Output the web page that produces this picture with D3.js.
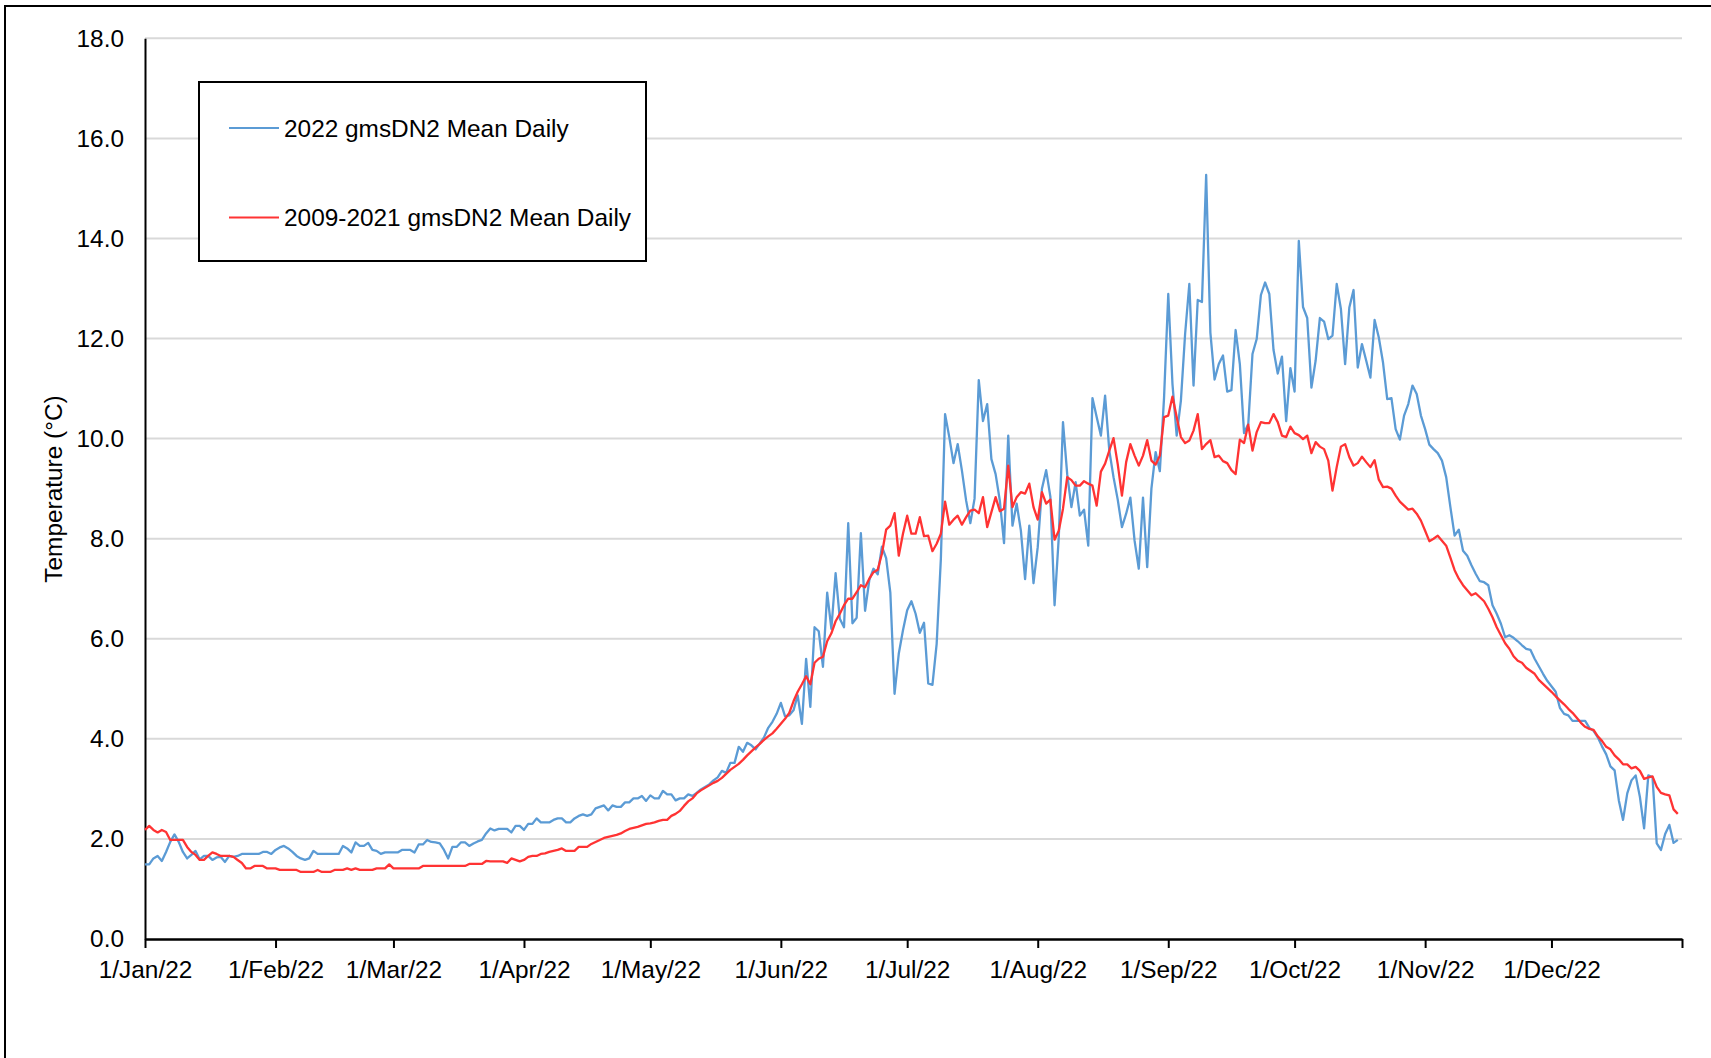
<!DOCTYPE html>
<head>
  <meta charset="utf-8">
  <script src="https://d3js.org/d3.v7.min.js"></script>
  <style type="text/css">
    body { margin: 0; background: #fff; }
    text { font-family: "Liberation Sans", Arial, sans-serif; font-size: 24.4px; fill: #000; }
    .line { fill: none; stroke-width: 2.3; stroke-linejoin: round; }
  </style>
</head>

<body>
  <script type="text/javascript">
    // daily means, 1 Jan 2022 .. 31 Dec 2022 (one row per month)
    var mean2022 = [
      1.49,1.49,1.61,1.66,1.56,1.74,1.94,2.09,1.94,1.74,1.61,1.68,1.76,1.59,1.66,1.66,1.58,1.63,1.64,1.54,1.66,1.64,1.66,1.70,1.70,1.70,1.70,1.70,1.74,1.74,1.70,
      1.78,1.83,1.86,1.81,1.74,1.66,1.61,1.58,1.61,1.76,1.70,1.70,1.70,1.70,1.70,1.70,1.86,1.81,1.73,1.93,1.86,1.86,1.92,1.78,1.76,1.70,1.73,1.73,
      1.73,1.73,1.78,1.78,1.78,1.73,1.89,1.89,1.98,1.94,1.93,1.91,1.78,1.61,1.84,1.84,1.93,1.93,1.86,1.91,1.95,1.98,2.11,2.21,2.17,2.20,2.20,2.20,2.13,2.26,2.26,
      2.18,2.30,2.30,2.41,2.33,2.33,2.33,2.38,2.41,2.41,2.33,2.33,2.41,2.46,2.49,2.46,2.49,2.61,2.64,2.67,2.57,2.67,2.64,2.64,2.73,2.73,2.81,2.81,2.86,2.76,
      2.87,2.81,2.81,2.96,2.89,2.89,2.77,2.81,2.81,2.89,2.86,2.92,2.99,3.04,3.09,3.17,3.23,3.36,3.32,3.52,3.52,3.84,3.74,3.92,3.87,3.79,3.91,4.03,4.22,4.34,4.50,
      4.72,4.45,4.47,4.57,4.87,4.30,5.60,4.64,6.23,6.15,5.44,6.92,6.20,7.31,6.40,6.23,8.31,6.31,6.42,8.11,6.56,7.17,7.40,7.29,7.84,7.61,6.92,4.90,5.70,6.17,
      6.57,6.75,6.50,6.12,6.32,5.11,5.08,5.90,7.60,10.49,10.03,9.51,9.89,9.36,8.76,8.31,8.80,11.17,10.35,10.69,9.59,9.29,8.76,7.91,10.06,8.26,8.70,8.16,7.19,8.26,7.11,
      7.83,9.00,9.37,8.84,6.67,8.03,10.33,9.29,8.63,9.13,8.46,8.58,7.86,10.81,10.43,10.06,10.86,9.76,9.23,8.78,8.23,8.50,8.82,7.96,7.40,8.82,7.43,9.00,9.73,9.35,10.82,
      12.89,11.09,10.06,10.76,12.09,13.09,11.06,12.77,12.73,15.27,12.12,11.18,11.49,11.66,10.94,10.97,12.17,11.49,10.11,10.29,11.69,11.99,12.87,13.12,12.89,11.77,11.30,11.64,10.35,11.41,
      10.94,13.95,12.63,12.41,11.02,11.56,12.41,12.34,11.99,12.06,13.09,12.59,11.49,12.62,12.97,11.42,11.89,11.56,11.22,12.37,12.02,11.52,10.79,10.81,10.19,9.98,10.46,10.69,11.06,10.89,10.46,
      10.19,9.88,9.79,9.71,9.56,9.23,8.63,8.06,8.18,7.76,7.66,7.47,7.30,7.15,7.13,7.07,6.67,6.50,6.30,6.03,6.07,6.02,5.95,5.87,5.80,5.78,5.60,5.45,5.30,5.16,
      5.05,4.94,4.62,4.50,4.47,4.36,4.36,4.36,4.36,4.22,4.16,4.03,3.85,3.69,3.45,3.37,2.77,2.38,2.91,3.17,3.27,2.84,2.21,3.27,3.23,1.91,1.78,2.10,2.28,1.92,1.98
    ];

    var mean2009_2021 = [
      2.18,2.26,2.18,2.13,2.18,2.14,1.98,1.98,1.98,1.98,1.84,1.74,1.68,1.58,1.58,1.66,1.73,1.70,1.66,1.66,1.66,1.64,1.58,1.52,1.41,1.41,1.46,1.46,1.46,1.41,1.41,
      1.41,1.38,1.38,1.38,1.38,1.38,1.34,1.34,1.34,1.34,1.38,1.34,1.34,1.34,1.38,1.38,1.38,1.41,1.38,1.41,1.38,1.38,1.38,1.38,1.41,1.41,1.41,1.49,
      1.41,1.41,1.41,1.41,1.41,1.41,1.41,1.46,1.46,1.46,1.46,1.46,1.46,1.46,1.46,1.46,1.46,1.46,1.50,1.50,1.50,1.50,1.56,1.55,1.55,1.55,1.55,1.52,1.61,1.58,1.55,
      1.58,1.64,1.66,1.66,1.70,1.71,1.74,1.76,1.78,1.81,1.76,1.76,1.76,1.84,1.84,1.84,1.90,1.94,1.98,2.02,2.04,2.06,2.08,2.11,2.16,2.20,2.22,2.24,2.27,2.30,
      2.31,2.33,2.36,2.38,2.38,2.46,2.50,2.56,2.66,2.75,2.81,2.91,2.97,3.02,3.07,3.12,3.16,3.22,3.30,3.38,3.44,3.50,3.58,3.67,3.75,3.83,3.90,3.98,4.05,4.11,4.20,
      4.30,4.40,4.52,4.75,4.94,5.09,5.25,5.09,5.52,5.60,5.64,5.95,6.11,6.35,6.50,6.67,6.80,6.80,6.93,7.07,7.03,7.20,7.33,7.38,7.70,8.18,8.26,8.51,7.66,8.10,
      8.46,8.10,8.10,8.43,8.05,8.06,7.75,7.90,8.10,8.74,8.28,8.38,8.46,8.28,8.43,8.56,8.58,8.51,8.83,8.23,8.53,8.83,8.55,8.60,9.46,8.63,8.83,8.93,8.90,9.10,8.63,
      8.38,8.93,8.70,8.78,7.98,8.16,8.60,9.23,9.17,9.06,9.06,9.15,9.10,9.06,8.66,9.34,9.50,9.76,10.01,9.49,8.86,9.53,9.89,9.66,9.46,9.66,9.97,9.56,9.48,9.66,10.43,
      10.46,10.84,10.43,10.03,9.91,9.96,10.16,10.49,9.79,9.89,9.97,9.63,9.66,9.55,9.51,9.37,9.29,9.98,9.91,10.28,9.76,10.13,10.33,10.31,10.31,10.49,10.33,10.06,10.03,10.24,
      10.11,10.07,9.99,10.06,9.71,9.93,9.84,9.79,9.56,8.96,9.43,9.84,9.89,9.63,9.46,9.51,9.64,9.53,9.43,9.57,9.18,9.03,9.04,9.00,8.86,8.74,8.66,8.58,8.60,8.50,8.36,
      8.16,7.95,8.00,8.06,7.96,7.86,7.62,7.37,7.20,7.07,6.97,6.87,6.91,6.83,6.75,6.60,6.43,6.23,6.07,5.91,5.80,5.65,5.56,5.52,5.42,5.36,5.30,5.18,5.10,5.02,
      4.94,4.85,4.77,4.69,4.60,4.52,4.42,4.32,4.24,4.20,4.18,4.05,3.96,3.84,3.79,3.67,3.59,3.49,3.49,3.41,3.44,3.36,3.20,3.23,3.25,3.04,2.92,2.89,2.87,2.59,2.50
    ];

    var seriesNames = ["2022 gmsDN2 Mean Daily", "2009-2021 gmsDN2 Mean Daily"];
    var seriesColors = ["#5b9bd5", "#ff3333"];
    var monthLabels = ["1/Jan/22", "1/Feb/22", "1/Mar/22", "1/Apr/22", "1/May/22", "1/Jun/22",
                       "1/Jul/22", "1/Aug/22", "1/Sep/22", "1/Oct/22", "1/Nov/22", "1/Dec/22"];
    var yTicks = [0, 2, 4, 6, 8, 10, 12, 14, 16, 18];

    var W = 1711, H = 1058;
    // plot box (note: "top" is taken by window.top, so use an object)
    var plot = { x0: 145, x1: 1682, y0: 939, y1: 38.3 };

    var start = new Date(Date.UTC(2022, 0, 1)),
        end = new Date(Date.UTC(2023, 0, 1));

    var xScale = d3.scaleUtc().domain([start, end]).range([plot.x0, plot.x1]);
    var yScale = d3.scaleLinear().domain([0, 18]).range([plot.y0, plot.y1]);

    function dayDate(i) { return new Date(Date.UTC(2022, 0, 1 + i)); }

    var svg = d3.select("body").append("svg")
      .attr("width", W)
      .attr("height", H);

    svg.append("rect").attr("width", W).attr("height", H).attr("fill", "#fff");

    // outer chart border (runs off right/bottom of the picture)
    svg.append("rect")
      .attr("x", 5).attr("y", 6)
      .attr("width", W + 20).attr("height", H + 20)
      .attr("fill", "none").attr("stroke", "#000").attr("stroke-width", 2);

    // gridlines
    svg.append("g").selectAll("line")
      .data(yTicks.filter(function(d) { return d > 0; }))
      .enter().append("line")
      .attr("x1", plot.x0).attr("x2", plot.x1)
      .attr("y1", function(d) { return yScale(d); })
      .attr("y2", function(d) { return yScale(d); })
      .attr("stroke", "#d9d9d9").attr("stroke-width", 2);

    // y axis: line + labels, no ticks
    var yAxis = d3.axisLeft(yScale)
      .tickValues(yTicks)
      .tickSize(0)
      .tickPadding(21)
      .tickFormat(d3.format(".1f"));

    var gy = svg.append("g")
      .attr("transform", "translate(" + plot.x0 + ",0)")
      .call(yAxis);
    gy.select(".domain").attr("stroke", "#000").attr("stroke-width", 2);
    gy.selectAll("text").attr("font-size", null).attr("font-family", null);

    // x axis: monthly ticks pointing down
    var monthTicks = d3.utcMonth.range(start, d3.utcDay.offset(end, 1));
    var xAxis = d3.axisBottom(xScale)
      .tickValues(monthTicks)
      .tickSizeInner(9)
      .tickSizeOuter(0)
      .tickPadding(13)
      .tickFormat(function(d, i) { return monthLabels[i] || ""; });

    var gx = svg.append("g")
      .attr("transform", "translate(0," + plot.y0 + ")")
      .call(xAxis);
    gx.select(".domain").attr("stroke", "#000").attr("stroke-width", 2.5);
    gx.selectAll(".tick line").attr("stroke", "#000").attr("stroke-width", 2);
    gx.selectAll("text").attr("font-size", null).attr("font-family", null);

    // axis title
    svg.append("text")
      .attr("transform", "translate(62,489) rotate(-90)")
      .attr("text-anchor", "middle")
      .text("Temperature (\u00B0C)");

    // lines
    var line = d3.line()
      .x(function(d, i) { return xScale(dayDate(i)); })
      .y(function(d) { return yScale(d); });

    var allSeries = [mean2022, mean2009_2021];

    svg.append("g").selectAll("path")
      .data(allSeries)
      .enter().append("path")
      .attr("class", "line")
      .attr("stroke", function(d, i) { return seriesColors[i]; })
      .attr("d", line);

    // legend
    var legend = svg.append("g");
    legend.append("rect")
      .attr("x", 199).attr("y", 82)
      .attr("width", 447).attr("height", 179)
      .attr("fill", "#fff").attr("stroke", "#000").attr("stroke-width", 2);

    var items = legend.selectAll("g.item")
      .data(seriesNames)
      .enter().append("g")
      .attr("class", "item")
      .attr("transform", function(d, i) { return "translate(0," + (128 + i * 89.5) + ")"; });

    items.append("line")
      .attr("x1", 229).attr("x2", 279)
      .attr("y1", 0).attr("y2", 0)
      .attr("stroke", function(d, i) { return seriesColors[i]; })
      .attr("stroke-width", 2.2);

    items.append("text")
      .attr("x", 284)
      .attr("y", 8.5)
      .text(function(d) { return d; });
  </script>
</body>
